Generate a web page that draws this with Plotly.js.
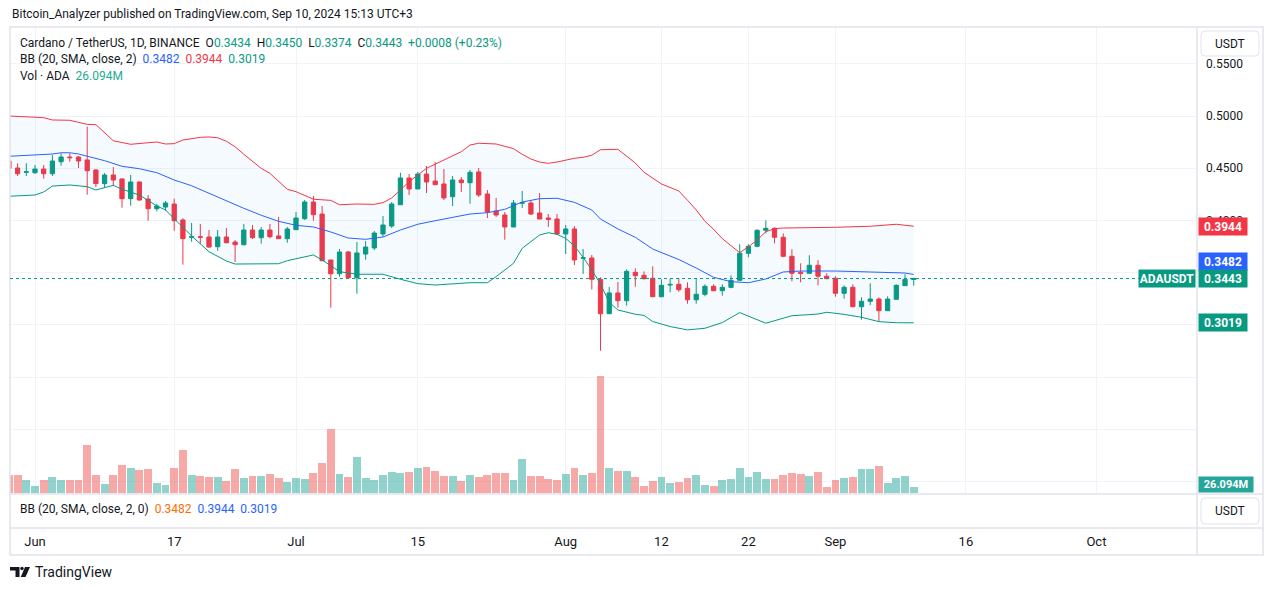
<!DOCTYPE html>
<html><head><meta charset="utf-8">
<script src="https://cdn.plot.ly/plotly-3.0.1.min.js"></script>
<style>html,body{margin:0;padding:0;background:#fff;}#chart{width:1273px;height:590px;}</style>
</head><body><div id="chart"></div>
<script>
// ---------------- DATA ----------------
const dates = [
'2024-05-29','2024-05-30','2024-05-31','2024-06-01','2024-06-02','2024-06-03','2024-06-04','2024-06-05','2024-06-06','2024-06-07',
'2024-06-08','2024-06-09','2024-06-10','2024-06-11','2024-06-12','2024-06-13','2024-06-14','2024-06-15','2024-06-16','2024-06-17',
'2024-06-18','2024-06-19','2024-06-20','2024-06-21','2024-06-22','2024-06-23','2024-06-24','2024-06-25','2024-06-26','2024-06-27',
'2024-06-28','2024-06-29','2024-06-30','2024-07-01','2024-07-02','2024-07-03','2024-07-04','2024-07-05','2024-07-06','2024-07-07',
'2024-07-08','2024-07-09','2024-07-10','2024-07-11','2024-07-12','2024-07-13','2024-07-14','2024-07-15','2024-07-16','2024-07-17',
'2024-07-18','2024-07-19','2024-07-20','2024-07-21','2024-07-22','2024-07-23','2024-07-24','2024-07-25','2024-07-26','2024-07-27',
'2024-07-28','2024-07-29','2024-07-30','2024-07-31','2024-08-01','2024-08-02','2024-08-03','2024-08-04','2024-08-05','2024-08-06',
'2024-08-07','2024-08-08','2024-08-09','2024-08-10','2024-08-11','2024-08-12','2024-08-13','2024-08-14','2024-08-15','2024-08-16',
'2024-08-17','2024-08-18','2024-08-19','2024-08-20','2024-08-21','2024-08-22','2024-08-23','2024-08-24','2024-08-25','2024-08-26',
'2024-08-27','2024-08-28','2024-08-29','2024-08-30','2024-08-31','2024-09-01','2024-09-02','2024-09-03','2024-09-04','2024-09-05',
'2024-09-06','2024-09-07','2024-09-08','2024-09-09','2024-09-10'];

const open = [
0.4569,0.4502,0.4461,0.4457,0.4492,0.4447,0.4562,0.4607,0.4607,0.4579,
0.4483,0.4352,0.4435,0.4397,0.4208,0.4368,0.4205,0.4112,0.4128,0.4157,
0.4004,0.3838,0.3844,0.3841,0.3748,0.3841,0.3793,0.3767,0.3908,0.3834,
0.3908,0.3851,0.3825,0.3911,0.4016,0.4176,0.4061,0.3621,0.3489,0.3697,
0.3451,0.3678,0.3736,0.3870,0.3946,0.4150,0.4406,0.4301,0.4444,0.4377,
0.4349,0.4227,0.4387,0.4361,0.4464,0.4253,0.4090,0.4052,0.3937,0.4164,
0.4167,0.4071,0.4023,0.4013,0.3870,0.3918,0.3637,0.3640,0.3436,0.3106,
0.3305,0.3231,0.3503,0.3474,0.3446,0.3269,0.3381,0.3388,0.3350,0.3240,
0.3292,0.3369,0.3327,0.3359,0.3426,0.3685,0.3752,0.3905,0.3924,0.3838,
0.3656,0.3503,0.3493,0.3570,0.3465,0.3446,0.3302,0.3359,0.3173,0.3225,
0.3247,0.3135,0.3244,0.3375,0.3434];

const high = [
0.4588,0.4547,0.4547,0.4531,0.4531,0.4626,0.4643,0.4643,0.4617,0.4898,
0.4490,0.4454,0.4511,0.4400,0.4435,0.4372,0.4243,0.4157,0.4186,0.4208,
0.4020,0.3975,0.3966,0.3908,0.3908,0.3927,0.3812,0.3966,0.3956,0.3937,
0.3966,0.4033,0.3937,0.4080,0.4195,0.4234,0.4138,0.3621,0.3726,0.3707,
0.3793,0.3803,0.3898,0.4042,0.4176,0.4457,0.4444,0.4464,0.4521,0.4559,
0.4492,0.4425,0.4416,0.4483,0.4502,0.4291,0.4215,0.4080,0.4195,0.4282,
0.4195,0.4262,0.4061,0.4061,0.3956,0.3946,0.3726,0.3669,0.3455,0.3362,
0.3410,0.3532,0.3541,0.3512,0.3560,0.3436,0.3442,0.3446,0.3407,0.3446,
0.3388,0.3388,0.3388,0.3474,0.3771,0.3771,0.3915,0.4001,0.3934,0.3876,
0.3723,0.3589,0.3666,0.3618,0.3493,0.3465,0.3378,0.3388,0.3263,0.3397,
0.3263,0.3273,0.3388,0.3484,0.3450];

const low = [
0.4483,0.4425,0.4425,0.4447,0.4399,0.4425,0.4524,0.4562,0.4502,0.4246,
0.4320,0.4313,0.4329,0.4122,0.4141,0.4189,0.3997,0.4087,0.4093,0.3901,
0.3576,0.3796,0.3774,0.3738,0.3710,0.3780,0.3602,0.3762,0.3822,0.3777,
0.3828,0.3822,0.3786,0.3908,0.4004,0.3997,0.3610,0.3164,0.3461,0.3441,
0.3298,0.3624,0.3716,0.3841,0.3927,0.4150,0.4243,0.4301,0.4262,0.4340,
0.4195,0.4138,0.4272,0.4160,0.4224,0.4023,0.4033,0.3815,0.3937,0.4119,
0.4052,0.4013,0.3937,0.3870,0.3678,0.3573,0.3487,0.3338,0.2752,0.3106,
0.3164,0.3183,0.3365,0.3432,0.3269,0.3265,0.3311,0.3317,0.3202,0.3202,
0.3273,0.3321,0.3279,0.3350,0.3426,0.3647,0.3742,0.3876,0.3780,0.3647,
0.3417,0.3407,0.3493,0.3378,0.3442,0.3269,0.3250,0.3173,0.3049,0.3187,
0.3030,0.3135,0.3244,0.3375,0.3374];

const close = [
0.4499,0.4447,0.4466,0.4492,0.4447,0.4569,0.4607,0.4601,0.4569,0.4476,
0.4352,0.4435,0.4387,0.4208,0.4368,0.4195,0.4112,0.4138,0.4167,0.3997,
0.3825,0.3844,0.3838,0.3745,0.3841,0.3786,0.3767,0.3908,0.3834,0.3908,
0.3844,0.3825,0.3918,0.4023,0.4176,0.4055,0.3614,0.3489,0.3697,0.3451,
0.3688,0.3745,0.3879,0.3956,0.4157,0.4406,0.4301,0.4444,0.4368,0.4342,
0.4215,0.4387,0.4361,0.4461,0.4243,0.4080,0.4052,0.3937,0.4167,0.4170,
0.4061,0.4013,0.4010,0.3870,0.3918,0.3621,0.3643,0.3436,0.3106,0.3305,
0.3231,0.3512,0.3470,0.3442,0.3269,0.3378,0.3387,0.3336,0.3240,0.3292,
0.3369,0.3327,0.3359,0.3426,0.3685,0.3752,0.3905,0.3924,0.3838,0.3656,
0.3493,0.3493,0.3570,0.3465,0.3442,0.3302,0.3359,0.3173,0.3225,0.3247,
0.3135,0.3247,0.3378,0.3435,0.3443];

// volume in millions ADA
const volume = [
75.8,75.8,55.1,30.2,55.1,67.5,55.1,55.1,55.1,200.1,
75.8,38.5,75.8,117.2,104.8,96.5,100.7,42.7,34.4,104.8,
179.3,75.8,71.7,67.5,67.5,50.9,100.7,63.4,71.7,71.7,
79.9,63.4,46.8,63.4,59.2,84.1,125.5,266.3,79.9,67.5,
150.4,63.4,55.1,75.8,88.2,84.1,88.2,104.8,108.9,92.4,
71.7,71.7,50.9,75.8,67.5,75.8,84.1,84.1,55.1,142.1,
71.7,71.7,59.2,55.1,79.9,104.8,75.8,84.1,483.4,104.8,
92.4,92.4,67.5,30.2,50.9,67.5,42.7,46.8,63.4,75.8,
34.4,30.2,55.1,59.2,104.8,67.5,88.2,59.2,59.2,75.8,
84.1,79.9,71.7,88.2,26.1,55.1,63.4,67.5,100.7,100.7,
113.1,42.7,63.4,71.7,26.094];

// Bollinger Bands (20, SMA, close, 2)
const bbUpperDates = ['2024-05-29','2024-06-02','2024-06-03','2024-06-05','2024-06-07','2024-06-08','2024-06-10','2024-06-12','2024-06-14','2024-06-15','2024-06-16','2024-06-17','2024-06-18','2024-06-20','2024-06-21','2024-06-22','2024-06-23','2024-06-24','2024-06-25','2024-06-26','2024-06-27','2024-06-28','2024-06-29','2024-06-30','2024-07-01','2024-07-02','2024-07-03','2024-07-05','2024-07-06','2024-07-08','2024-07-10','2024-07-11','2024-07-12','2024-07-13','2024-07-14','2024-07-16','2024-07-17','2024-07-18','2024-07-20','2024-07-21','2024-07-22','2024-07-24','2024-07-25','2024-07-26','2024-07-27','2024-07-28','2024-07-29','2024-07-30','2024-07-31','2024-08-02','2024-08-03','2024-08-04','2024-08-05','2024-08-06','2024-08-07','2024-08-09','2024-08-10','2024-08-12','2024-08-14','2024-08-15','2024-08-16','2024-08-17','2024-08-18','2024-08-19','2024-08-20','2024-08-21','2024-08-22','2024-08-23','2024-08-24','2024-08-25','2024-08-26','2024-08-28','2024-09-01','2024-09-05','2024-09-08','2024-09-10'];
const bbUpper = [0.5000,0.4984,0.4962,0.4959,0.4920,0.4917,0.4763,0.4729,0.4744,0.4751,0.4732,0.4735,0.4770,0.4796,0.4799,0.4792,0.4758,0.4706,0.4633,0.4562,0.4499,0.4451,0.4371,0.4298,0.4275,0.4238,0.4203,0.4192,0.4150,0.4157,0.4154,0.4170,0.4215,0.4291,0.4371,0.4499,0.4540,0.4579,0.4658,0.4722,0.4739,0.4732,0.4713,0.4687,0.4633,0.4588,0.4559,0.4547,0.4559,0.4595,0.4604,0.4624,0.4677,0.4680,0.4681,0.4550,0.4461,0.4349,0.4282,0.4193,0.4100,0.3992,0.3915,0.3825,0.3755,0.3691,0.3748,0.3812,0.3892,0.3921,0.3927,0.3927,0.3934,0.3944,0.3963,0.3944];

const bbBasisDates = ['2024-05-29','2024-06-01','2024-06-03','2024-06-04','2024-06-05','2024-06-06','2024-06-07','2024-06-09','2024-06-11','2024-06-13','2024-06-15','2024-06-17','2024-06-19','2024-06-21','2024-06-23','2024-06-25','2024-06-27','2024-06-29','2024-07-01','2024-07-03','2024-07-05','2024-07-07','2024-07-09','2024-07-11','2024-07-13','2024-07-15','2024-07-17','2024-07-19','2024-07-21','2024-07-23','2024-07-25','2024-07-27','2024-07-29','2024-07-31','2024-08-02','2024-08-04','2024-08-05','2024-08-07','2024-08-09','2024-08-11','2024-08-14','2024-08-16','2024-08-18','2024-08-20','2024-08-22','2024-08-24','2024-08-26','2024-08-28','2024-09-01','2024-09-05','2024-09-09','2024-09-10'];
const bbBasis = [0.4614,0.4624,0.4636,0.4648,0.4648,0.4636,0.4617,0.4572,0.4518,0.4495,0.4457,0.4387,0.4332,0.4260,0.4183,0.4116,0.4049,0.3991,0.3953,0.3937,0.3889,0.3831,0.3819,0.3841,0.3908,0.3963,0.3997,0.4030,0.4061,0.4074,0.4106,0.4176,0.4208,0.4212,0.4173,0.4100,0.4013,0.3918,0.3838,0.3726,0.3625,0.3544,0.3455,0.3413,0.3403,0.3439,0.3506,0.3515,0.3515,0.3506,0.3496,0.3482];

const bbLowerDates = ['2024-05-29','2024-06-01','2024-06-02','2024-06-03','2024-06-05','2024-06-07','2024-06-08','2024-06-10','2024-06-11','2024-06-13','2024-06-15','2024-06-16','2024-06-17','2024-06-19','2024-06-21','2024-06-23','2024-06-24','2024-06-27','2024-06-29','2024-06-30','2024-07-02','2024-07-03','2024-07-04','2024-07-06','2024-07-08','2024-07-11','2024-07-13','2024-07-15','2024-07-17','2024-07-21','2024-07-23','2024-07-24','2024-07-26','2024-07-27','2024-07-29','2024-07-30','2024-07-31','2024-08-01','2024-08-02','2024-08-03','2024-08-04','2024-08-05','2024-08-06','2024-08-07','2024-08-09','2024-08-10','2024-08-11','2024-08-13','2024-08-15','2024-08-17','2024-08-19','2024-08-21','2024-08-24','2024-08-26','2024-08-27','2024-08-30','2024-08-31','2024-09-02','2024-09-04','2024-09-06','2024-09-08','2024-09-10'];
const bbLower = [0.4231,0.4243,0.4272,0.4329,0.4339,0.4323,0.4291,0.4336,0.4298,0.4243,0.4138,0.4100,0.4016,0.3851,0.3700,0.3611,0.3582,0.3580,0.3585,0.3614,0.3652,0.3669,0.3621,0.3509,0.3484,0.3484,0.3436,0.3394,0.3381,0.3403,0.3403,0.3461,0.3589,0.3733,0.3860,0.3882,0.3867,0.3828,0.3755,0.3646,0.3525,0.3391,0.3215,0.3142,0.3101,0.3090,0.3031,0.2983,0.2951,0.2967,0.3021,0.3117,0.3015,0.3063,0.3087,0.3103,0.3120,0.3100,0.3072,0.3030,0.3020,0.3019];

const tickDates = ['2024-06-01','2024-06-17','2024-07-01','2024-07-15','2024-08-01','2024-08-12','2024-08-22','2024-09-01','2024-09-16','2024-10-01'];
const tickLabels = ['Jun','17','Jul','15','Aug','12','22','Sep','16','Oct'];
const priceTicks = [0.15,0.20,0.25,0.30,0.35,0.40,0.45,0.50,0.55];
const priceTickLabels = ['','','','','','0.4000','0.4500','0.5000','0.5500'];

// ---------------- STYLE ----------------
const UP = '#089981', DOWN = '#f23645', BLUE = '#2962ff', TEXT = '#131722', BORDER = '#e0e3eb';
const FONT = 'Roboto, "Liberation Sans", sans-serif';
const W = 1273, H = 590, L = 10, R = 1197, T = 28, B = 493;
const px = v => (v - L) / (R - L);
const py = v => (B - v) / (B - T);

const n = close.length;
const lastO = open[n-1], lastH = high[n-1], lastL = low[n-1], lastC = close[n-1];
const chg = lastC - close[n-2];
const pct = chg / close[n-2] * 100;
const bbU = bbUpper[bbUpper.length-1], bbM = bbBasis[bbBasis.length-1], bbLo = bbLower[bbLower.length-1];
const lastVol = volume[n-1];
const sgn = v => (v >= 0 ? '+' : '');
const col = (c, t) => `<span style="color:${c}">${t}</span>`;
const sp = '&nbsp;&nbsp;';

const volColors = close.map((c, i) => c >= open[i] ? 'rgba(38,166,154,0.5)' : 'rgba(239,83,80,0.5)');

const traces = [
  {type:'bar', x:dates, y:volume, yaxis:'y2', marker:{color:volColors, line:{width:0}},
   width:0.9*86400000, hoverinfo:'skip'},
  {type:'candlestick', x:dates, open:open, high:high, low:low, close:close,
   increasing:{line:{color:UP, width:1}, fillcolor:UP},
   decreasing:{line:{color:DOWN, width:1}, fillcolor:DOWN},
   whiskerwidth:0, hoverinfo:'skip'},
  {type:'scatter', mode:'lines', x:bbUpperDates, y:bbUpper, line:{color:'#f23645', width:1}, hoverinfo:'skip'},
  {type:'scatter', mode:'lines', x:bbLowerDates, y:bbLower, line:{color:'#089981', width:1},
   fill:'tonexty', fillcolor:'rgba(33,150,243,0.05)', hoverinfo:'skip'},
  {type:'scatter', mode:'lines', x:bbBasisDates, y:bbBasis, line:{color:BLUE, width:1}, hoverinfo:'skip'}
];

function rrect(x0, y0, x1, y1, r) {
  const P = (x, y) => `${px(x)},${py(y)}`;
  return `M${P(x0+r,y0)} L${P(x1-r,y0)} Q${P(x1,y0)} ${P(x1,y0+r)} L${P(x1,y1-r)} Q${P(x1,y1)} ${P(x1-r,y1)} L${P(x0+r,y1)} Q${P(x0,y1)} ${P(x0,y1-r)} L${P(x0,y0+r)} Q${P(x0,y0)} ${P(x0+r,y0)} Z`;
}

const shapes = [
  {type:'rect', xref:'paper', yref:'paper', x0:px(10), x1:px(1263), y0:py(555), y1:py(27), line:{color:BORDER, width:1.5}, layer:'above'},
  {type:'line', xref:'paper', yref:'paper', x0:px(1197), x1:px(1197), y0:py(555), y1:py(27), line:{color:BORDER, width:1.5}},
  {type:'line', xref:'paper', yref:'paper', x0:px(10), x1:px(1263), y0:py(494), y1:py(494), line:{color:BORDER, width:1.5}},
  {type:'line', xref:'paper', yref:'paper', x0:px(10), x1:px(1263), y0:py(528), y1:py(528), line:{color:BORDER, width:1.5}},
  {type:'line', xref:'paper', yref:'y', x0:0, x1:1, y0:lastC, y1:lastC, line:{color:UP, width:1, dash:'dot'}},
  {type:'path', xref:'paper', yref:'paper', path:rrect(1201,31,1259,56,4), line:{color:BORDER, width:1}, fillcolor:'#fff'},
  {type:'path', xref:'paper', yref:'paper', path:rrect(1201,498,1259,524,4), line:{color:BORDER, width:1}, fillcolor:'#fff'},
  {type:'path', xref:'paper', yref:'paper', path:`M${px(10)},${py(567)} L${px(19.5)},${py(567)} L${px(19.5)},${py(577)} L${px(15.5)},${py(577)} L${px(15.5)},${py(570.5)} L${px(10)},${py(570.5)} Z`, fillcolor:TEXT, line:{width:0}},
  {type:'circle', xref:'paper', yref:'paper', x0:px(20.3), x1:px(23.7), y0:py(570.2), y1:py(566.8), fillcolor:TEXT, line:{width:0}},
  {type:'path', xref:'paper', yref:'paper', path:`M${px(25)},${py(567)} L${px(30)},${py(567)} L${px(25.5)},${py(577)} L${px(20.8)},${py(577)} Z`, fillcolor:TEXT, line:{width:0}}
];

const priceLabel = (val, bg, shift) => ({
  xref:'paper', yref:'y', x:px(1198), y:val, xanchor:'left', yanchor:'middle', yshift:shift||0,
  text:'<b>' + val.toFixed(4) + '</b>', showarrow:false, bgcolor:bg, width:46, height:15, borderpad:1,
  font:{family:FONT, size:12, color:'#ffffff'}, align:'center'
});

const annotations = [
  {xref:'paper', yref:'paper', x:px(10), y:py(14), xanchor:'left', yanchor:'middle', showarrow:false,
   text:'Bitcoin_Analyzer published on TradingView.com, Sep 10, 2024 15:13 UTC+3', font:{family:FONT, size:12, color:TEXT}},
  {xref:'paper', yref:'paper', x:px(18), y:py(42.7), xanchor:'left', yanchor:'middle', showarrow:false,
   text:'Cardano / TetherUS, 1D, BINANCE' + sp + 'O' + col(UP, lastO.toFixed(4)) + sp + 'H' + col(UP, lastH.toFixed(4)) + sp +
        'L' + col(UP, lastL.toFixed(4)) + sp + 'C' + col(UP, lastC.toFixed(4)) + sp +
        col(UP, sgn(chg) + chg.toFixed(4) + ' (' + sgn(pct) + pct.toFixed(2) + '%)'),
   font:{family:FONT, size:12, color:TEXT}},
  {xref:'paper', yref:'paper', x:px(18), y:py(58.7), xanchor:'left', yanchor:'middle', showarrow:false,
   text:'BB (20, SMA, close, 2)' + sp + col(BLUE, bbM.toFixed(4)) + sp + col('#f23645', bbU.toFixed(4)) + sp + col(UP, bbLo.toFixed(4)),
   font:{family:FONT, size:12, color:TEXT}},
  {xref:'paper', yref:'paper', x:px(18), y:py(75.5), xanchor:'left', yanchor:'middle', showarrow:false,
   text:'Vol · ADA' + sp + col('#22ab94', lastVol.toFixed(3) + 'M'), font:{family:FONT, size:12, color:TEXT}},
  {xref:'paper', yref:'paper', x:px(18), y:py(508.5), xanchor:'left', yanchor:'middle', showarrow:false,
   text:'BB (20, SMA, close, 2, 0)' + sp + col('#ff6d00', bbM.toFixed(4)) + sp + col(BLUE, bbU.toFixed(4)) + sp + col(BLUE, bbLo.toFixed(4)),
   font:{family:FONT, size:12, color:TEXT}},
  {xref:'paper', yref:'paper', x:px(1230), y:py(43.5), xanchor:'center', yanchor:'middle', showarrow:false,
   text:'USDT', font:{family:FONT, size:12, color:TEXT}},
  {xref:'paper', yref:'paper', x:px(1230), y:py(511), xanchor:'center', yanchor:'middle', showarrow:false,
   text:'USDT', font:{family:FONT, size:12, color:TEXT}},
  {xref:'paper', yref:'paper', x:px(33), y:py(572), xanchor:'left', yanchor:'middle', showarrow:false,
   text:'TradingView', font:{family:FONT, size:14, color:TEXT}},
  priceLabel(bbU, '#f23645', 0),
  priceLabel(bbM, BLUE, 12.5),
  priceLabel(lastC, UP, 0),
  priceLabel(bbLo, UP, 0),
  {xref:'paper', yref:'y', x:px(1196), y:lastC, xanchor:'right', yanchor:'middle', showarrow:false,
   text:'<b>ADAUSDT</b>', bgcolor:UP, width:54, height:15, borderpad:1, font:{family:FONT, size:12, color:'#ffffff'}},
  {xref:'paper', yref:'y2', x:px(1198), y:lastVol, xanchor:'left', yanchor:'middle', yshift:2, showarrow:false,
   text:'<b>' + lastVol.toFixed(3) + 'M</b>', bgcolor:'#26a69a', width:52, height:13, borderpad:1,
   font:{family:FONT, size:11, color:'#ffffff'}}
];

const layout = {
  width:W, height:H, margin:{l:L, r:W-R, t:T, b:H-B, pad:0},
  paper_bgcolor:'#ffffff', plot_bgcolor:'#ffffff', showlegend:false,
  font:{family:FONT, size:12, color:TEXT},
  xaxis:{type:'date', range:['2024-05-29 03:02','2024-10-12 13:27'], rangeslider:{visible:false},
         showgrid:true, gridcolor:'#f0f3fa', gridwidth:1, tickvals:tickDates, ticktext:tickLabels,
         ticks:'', ticklabelstandoff:39, tickfont:{family:FONT, size:13, color:TEXT}, zeroline:false, showline:false, fixedrange:true},
  yaxis:{range:[0.138889, 0.584291], side:'right', tickvals:priceTicks, ticktext:priceTickLabels,
         showgrid:true, gridcolor:'#f0f3fa', gridwidth:1, ticks:'', ticklabelstandoff:8,
         tickfont:{family:FONT, size:12, color:TEXT}, zeroline:false, showline:false, fixedrange:true},
  yaxis2:{overlaying:'y', range:[0, 1926], visible:false, showgrid:false, zeroline:false, fixedrange:true},
  bargap:0, shapes:shapes, annotations:annotations
};

Plotly.newPlot('chart', traces, layout, {displayModeBar:false, staticPlot:true});
</script></body></html>
